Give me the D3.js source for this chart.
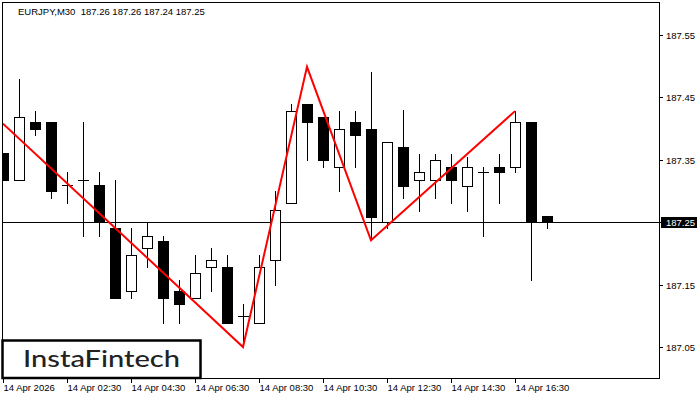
<!DOCTYPE html>
<html><head><meta charset="utf-8">
<script src="https://cdn.jsdelivr.net/npm/d3@7"></script>
<style>html,body{margin:0;padding:0;background:#fff;}svg{display:block;}</style>
</head><body>
<svg id="c" width="700" height="400"></svg>
<script>
const symbolTitle = "EURJPY,M30  187.26 187.26 187.24 187.25";
const lastPrice = 187.25;
const opens  = [187.361,187.318,187.410,187.410,187.309,187.318,187.309,187.240,187.139,187.209,187.220,187.139,187.129,187.179,187.179,187.099,187.089,187.189,187.280,187.440,187.419,187.339,187.410,187.400,187.250,187.370,187.318,187.318,187.339,187.308,187.330,187.339,187.339,187.410,187.26];
const highs  = [187.361,187.479,187.429,187.410,187.330,187.410,187.330,187.318,187.240,187.250,187.228,187.158,187.198,187.209,187.198,187.119,187.198,187.300,187.440,187.440,187.419,187.429,187.429,187.490,187.379,187.430,187.360,187.360,187.360,187.355,187.339,187.360,187.428,187.410,187.26];
const lows   = [187.318,187.318,187.389,187.289,187.280,187.228,187.228,187.129,187.129,187.178,187.089,187.089,187.129,187.139,187.089,187.050,187.089,187.149,187.280,187.349,187.339,187.300,187.339,187.221,187.240,187.289,187.268,187.289,187.280,187.268,187.228,187.280,187.330,187.158,187.24];
const closes = [187.318,187.419,187.399,187.300,187.309,187.318,187.250,187.129,187.198,187.228,187.129,187.119,187.169,187.189,187.089,187.099,187.179,187.269,187.429,187.410,187.349,187.400,187.389,187.259,187.379,187.308,187.330,187.349,187.318,187.339,187.330,187.330,187.410,187.250,187.25];
const patternIdx = [0,15,19,23,32];
const patternPrice = [187.408,187.050,187.499,187.221,187.428];
const yTicks = [187.05,187.15,187.25,187.35,187.45,187.55];
const xTickIdx = [0,4,8,12,16,20,24,28,32];
const xTickLabels = ["14 Apr 2026","14 Apr 02:30","14 Apr 04:30","14 Apr 06:30","14 Apr 08:30","14 Apr 10:30","14 Apr 12:30","14 Apr 14:30","14 Apr 16:30"];
const logoText = "InstaFintech";

const svg = d3.select("#c");
const L = 3, R = 659, T = 3, B = 378;
const x = d3.scaleLinear().domain([0, 41]).range([3, 659]);
const y = d3.scaleLinear().domain([187.05, 187.55]).range([347, 35]);
const ry = v => Math.round(y(v));
const rx = i => Math.round(x(i));
const FONT = "Liberation Sans, Arial, sans-serif";

svg.append("defs").append("clipPath").attr("id","plot")
  .append("rect").attr("x",L).attr("y",T).attr("width",R-L).attr("height",B-T);

const g = svg.append("g").attr("clip-path","url(#plot)");

// last price line
g.append("line").attr("x1",L).attr("x2",R+1)
  .attr("y1",ry(lastPrice)+0.5).attr("y2",ry(lastPrice)+0.5)
  .attr("stroke","#000").attr("stroke-width",1);

const data = opens.map((o,i)=>({i,o,h:highs[i],l:lows[i],c:closes[i]}));
const cg = g.append("g").attr("shape-rendering","crispEdges");
data.forEach(d=>{
  const cx = rx(d.i) + 0.5;
  const top = Math.min(ry(d.o), ry(d.c)), bot = Math.max(ry(d.o), ry(d.c));
  cg.append("line").attr("x1",cx).attr("x2",cx)
    .attr("y1",ry(d.h)).attr("y2",ry(d.l)+1).attr("stroke","#000");
  if (bot - top < 1) {
    cg.append("line").attr("x1",cx-5.5).attr("x2",cx+5.5)
      .attr("y1",top+0.5).attr("y2",top+0.5).attr("stroke","#000");
  } else {
    cg.append("rect").attr("x",cx-5).attr("y",top+0.5)
      .attr("width",10).attr("height",bot-top)
      .attr("fill", d.c < d.o ? "#000" : "#fff").attr("stroke","#000");
  }
});

// pattern line
const pts = patternIdx.map((k,j)=>[x(k), y(patternPrice[j])]);
g.append("path").attr("d", d3.line()(pts))
  .attr("fill","none").attr("stroke","#ff0000").attr("stroke-width",2)
  .attr("stroke-linejoin","miter");

// frame
svg.append("rect").attr("x",L-0.5).attr("y",T-0.5).attr("width",R-L+1).attr("height",B-T+1)
  .attr("fill","none").attr("stroke","#000").attr("shape-rendering","crispEdges");

// y axis
const ya = svg.append("g");
yTicks.forEach(v=>{
  const yy = ry(v)+0.5;
  ya.append("line").attr("x1",R+1).attr("x2",R+4).attr("y1",yy).attr("y2",yy)
    .attr("stroke","#000").attr("shape-rendering","crispEdges");
  ya.append("text").attr("x",666).attr("y",yy+3.5).text(v.toFixed(2))
    .attr("font-family",FONT).attr("font-size","9.5px").attr("fill","#000");
});
// last price label
const lpY = ry(lastPrice);
ya.append("rect").attr("x",661).attr("y",lpY-5).attr("width",36).attr("height",11).attr("fill","#000");
ya.append("text").attr("x",666).attr("y",lpY+4).text(lastPrice.toFixed(2))
  .attr("font-family",FONT).attr("font-size","9.5px").attr("fill","#fff");

// x axis
const xa = svg.append("g");
xTickIdx.forEach((k,j)=>{
  const xx = rx(k)+0.5;
  xa.append("line").attr("x1",xx).attr("x2",xx).attr("y1",B+1).attr("y2",B+5)
    .attr("stroke","#000").attr("shape-rendering","crispEdges");
  xa.append("text").attr("x",xx).attr("y",391).text(xTickLabels[j])
    .attr("font-family",FONT).attr("font-size","9.5px").attr("fill","#000");
});

// title
svg.append("text").attr("x",18).attr("y",15).attr("xml:space","preserve")
  .style("white-space","pre").text(symbolTitle)
  .attr("font-family",FONT).attr("font-size","9.5px").attr("fill","#000");

// logo
const lg = svg.append("g");
lg.append("rect").attr("x",2.5).attr("y",340.5).attr("width",198).attr("height",37.5)
  .attr("fill","#fff").attr("stroke","#000").attr("stroke-width",2.5);
lg.append("text").attr("x",23).attr("y",367).text(logoText)
  .attr("font-family","Lato, 'Open Sans', sans-serif").attr("font-weight","500")
  .attr("font-size","23px").attr("fill","#222")
  .attr("textLength",157).attr("lengthAdjust","spacingAndGlyphs");
</script>
</body></html>
